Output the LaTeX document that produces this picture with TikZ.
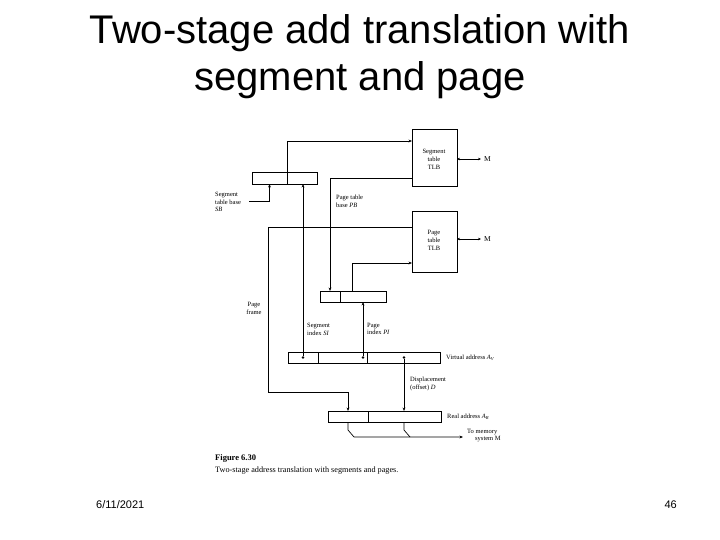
\documentclass[tikz,border=0pt]{standalone}
\usepackage{fontspec}
\setmainfont{Liberation Serif}
\newfontfamily\titlesans{Liberation Sans}
\usetikzlibrary{arrows.meta}
\begin{document}
\begin{tikzpicture}[x=1pt,y=-1pt,
  ln/.style={line width=0.7pt},
  arr/.style={ln,-{Stealth[length=3.5pt,width=2.8pt]}},
  darr/.style={ln,{Stealth[length=3pt,width=2.6pt]}-{Stealth[length=3pt,width=2.6pt]}},
  box/.style={draw,ln,anchor=north west,inner sep=0pt,outer sep=0pt},
  lbl/.style={font=\fontsize{6.5}{7.5}\selectfont,inner sep=0pt,align=left},
  clbl/.style={font=\fontsize{6.5}{8}\selectfont,inner sep=0pt,align=center},
  dot/.style={circle,fill,inner sep=0pt,minimum size=2.6pt},
  ttl/.style={font=\titlesans\fontsize{40}{47}\selectfont,anchor=base,inner sep=0pt},
  foot/.style={font=\titlesans\fontsize{11}{13}\selectfont,inner sep=0pt}]
\useasboundingbox (0,0) rectangle (720,540);
\fill[white] (0,0) rectangle (720,540);

% title
\node[ttl] (t1) at (360,44) {Two-stage add translation with};
\node[ttl] (t2) at (360,91) {segment and page};

% footer
\node[foot,anchor=base west] (date) at (96,508) {6/11/2021};
\node[foot,anchor=base east] (pgno) at (677,508) {46};

% boxes
\node[box,minimum width=65pt,minimum height=12pt] (segreg) at (252,172) {};
\node[box,minimum width=45pt,minimum height=57pt] (segtlb) at (412,129) {};
\node[box,minimum width=45pt,minimum height=61pt] (ptlb) at (412,211) {};
\node[box,minimum width=66pt,minimum height=11pt] (pagereg) at (320,291) {};
\node[box,minimum width=152pt,minimum height=11pt] (vaddr) at (288,352) {};
\node[box,minimum width=113pt,minimum height=11pt] (raddr) at (328,411) {};

% field dividers
\draw[ln] (287,172) -- (287,184);
\draw[ln] (340,291) -- (340,302);
\draw[ln] (318,352) -- (318,363);
\draw[ln] (367,352) -- (367,363);
\draw[ln] (368,411) -- (368,422);

% texts in TLBs
\node[clbl] (segtlbtxt) at (434,159) {Segment\\table\\TLB};
\node[clbl] (ptlbtxt) at (434,240) {Page\\table\\TLB};

% M links
\coordinate (mseg) at (481,159);
\coordinate (mpg) at (481,239);
\draw[darr] (segtlb.east |- mseg) -- (mseg);
\draw[darr] (ptlb.east |- mpg) -- (mpg);
\node[lbl,anchor=west,font=\fontsize{7.5}{8}\selectfont] (m1) at (484,159) {M};
\node[lbl,anchor=west,font=\fontsize{7.5}{8}\selectfont] (m2) at (484,239) {M};

% segment table base
\node[lbl,anchor=north west] (sbl) at (215,192) {Segment\\table base\\\textit{SB}};
\coordinate (sbs) at (249,201);
\coordinate (sbin) at (269.5,184);
\draw[arr] (sbs) -| (sbin);

% dots in virtual address
\node[dot] (vsi) at (303,357.5) {};
\node[dot] (vpi) at (363,357.5) {};
\node[dot] (vd) at (404,357.5) {};

% segment index
\draw[arr] (vsi) -- (vsi |- segreg.south);
% segment register to segment TLB
\coordinate (sgout) at (287,172);
\coordinate (sgin) at (412,141);
\draw[arr] (sgout) |- (sgin);

% page table base
\coordinate (pbs) at (412,178);
\coordinate (pbin) at (330,291);
\draw[arr] (pbs) -| (pbin);
\node[lbl,anchor=north west] (pbl) at (336,195) {Page table\\base \textit{PB}};

% page index
\draw[arr] (vpi) -- (vpi |- pagereg.south);
% page register to page TLB
\coordinate (pgout) at (352,291);
\coordinate (pgin) at (412,263);
\draw[arr] (pgout) |- (pgin);

% page frame
\coordinate (pfs) at (412,227);
\coordinate (pfc) at (268,392);
\coordinate (pfin) at (348,411);
\draw[arr] (pfs) -| (pfc) -| (pfin);
\node[clbl,anchor=north] (pfl) at (254,302) {Page\\frame};

% index labels
\node[lbl,anchor=north west] (sil) at (307,323) {Segment\\index \textit{SI}};
\node[lbl,anchor=north west] (pil) at (367,323) {Page\\index \textit{PI}};

% virtual address label
\node[lbl,anchor=west] (val) at (446,357.5) {Virtual address \textit{A}\textsubscript{\textit{V}}};

% displacement
\draw[arr] (vd) -- (vd |- raddr.north);
\node[lbl,anchor=north west] (dl) at (410,377) {Displacement\\(offset) \textit{D}};

% real address label
\node[lbl,anchor=west] (ral) at (447,416.5) {Real address \textit{A}\textsubscript{\textit{R}}};

% outputs to memory
\coordinate (o1) at (348,422);
\coordinate (o2) at (404,422);
\coordinate (mem) at (463,437);
\draw[arr] (o1) -- (348,430) -- (354,437) -- (mem);
\draw[ln] (o2) -- (404,430) -- (410,437);
\node[lbl,anchor=north west] (meml) at (467,429) {\hspace*{0pt}To memory\\\hspace*{8pt}system M};

% caption
\node[lbl,anchor=base west,font=\fontsize{8.5}{10}\selectfont\bfseries] (fig) at (215,460) {Figure 6.30};
\node[lbl,anchor=base west,font=\fontsize{8.2}{10}\selectfont] (cap) at (215,472) {Two-stage address translation with segments and pages.};
\end{tikzpicture}
\end{document}
